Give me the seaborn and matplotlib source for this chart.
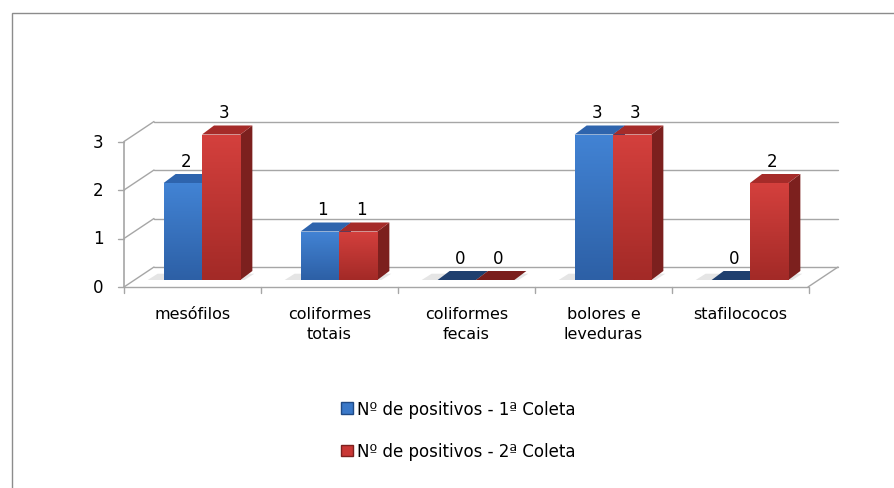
import numpy as np
import pandas as pd
import matplotlib
matplotlib.use("Agg")
import matplotlib.pyplot as plt
from matplotlib.patches import Polygon, Rectangle, Patch
from matplotlib.colors import LinearSegmentedColormap
import seaborn as sns

# --- data ---
categorias = ["mesófilos", "coliformes\ntotais", "coliformes\nfecais", "bolores e\nleveduras", "stafilococos"]
coleta1 = [2, 1, 0, 3, 0]
coleta2 = [3, 1, 0, 3, 2]
series = ["Nº de positivos - 1ª Coleta", "Nº de positivos - 2ª Coleta"]
yticks = [0, 1, 2, 3]

df = pd.DataFrame({
    "categoria": categorias * 2,
    "valor": coleta1 + coleta2,
    "coleta": [series[0]] * len(categorias) + [series[1]] * len(categorias),
})

sns.set_theme(style="white")
FONT = ["DejaVu Sans"]
plt.rcParams["font.family"] = FONT
plt.rcParams["text.color"] = "#000000"

W, H = 895, 489
fig = plt.figure(figsize=(W / 100, H / 100), dpi=100)

# pixel scale of the plot
PX_X = 137.0   # pixels per category
PX_Y = 48.5    # pixels per unit value
X0_PX = 202.0  # pixel x of category 0
Y0_PX = 281.0  # pixel y of value 0 (bar base)

left_px, right_px = 80.0, 870.0
ylo, yhi = -0.4, 3.7
xlo = (left_px - X0_PX) / PX_X
xhi = (right_px - X0_PX) / PX_X
bot_px = Y0_PX - ylo * PX_Y
top_px = Y0_PX - yhi * PX_Y
ax = fig.add_axes([left_px / W, 1 - bot_px / H, (right_px - left_px) / W, (bot_px - top_px) / H])


def dx(px):
    return px / PX_X


def dy(px):
    return px / PX_Y


# floor/wall geometry (3D look)
front_y0 = -dy(7)
wall_dx, wall_dy = dx(30), dy(20)
fx0, fx1 = (124 - X0_PX) / PX_X, (808 - X0_PX) / PX_X
grid_c = "#a6a6a6"
for v in yticks:
    yf = front_y0 + v
    ax.plot([fx0, fx0 + wall_dx], [yf, yf + wall_dy], color=grid_c, lw=1.0, zorder=1)
    ax.plot([fx0 + wall_dx, fx1 + wall_dx], [yf + wall_dy, yf + wall_dy], color=grid_c, lw=1.0, zorder=1)
ax.plot([fx0, fx1], [front_y0, front_y0], color=grid_c, lw=1.0, zorder=1)
ax.plot([fx1, fx1 + wall_dx], [front_y0, front_y0 + wall_dy], color=grid_c, lw=1.0, zorder=1)
ax.plot([fx0, fx0], [front_y0, front_y0 + 3], color=grid_c, lw=1.2, zorder=1)
for v in yticks:
    ax.plot([fx0 - dx(6), fx0], [front_y0 + v, front_y0 + v], color=grid_c, lw=1.0, zorder=1)
    ax.text(fx0 - dx(26), front_y0 + v, str(v), ha="center", va="center", fontsize=12, color="#000000")
for k in range(len(categorias) + 1):
    xt = fx0 + k
    ax.plot([xt, xt], [front_y0, front_y0 - dy(6)], color=grid_c, lw=1.0, zorder=1)
for k, c in enumerate(categorias):
    ax.text(fx0 + k + 0.5, front_y0 - dy(19), c, ha="center", va="top", fontsize=11.5,
            linespacing=1.45, color="#000000")

# bars
palette = {series[0]: "#3a78c8", series[1]: "#c93735"}
sns.barplot(data=df, x="categoria", y="valor", hue="coleta", order=categorias,
            hue_order=series, palette=palette, width=0.56, ax=ax, legend=False,
            saturation=1.0, edgecolor="none", zorder=3)

grad = {0: LinearSegmentedColormap.from_list("g0", ["#2d60a6", "#4283d4"]),
        1: LinearSegmentedColormap.from_list("g1", ["#a32a27", "#d4403d"])}
side_c = {0: "#1f4a85", 1: "#7c201e"}
top_c = {0: "#2e64ad", 1: "#a52b29"}
zero_c = {0: "#1f3f6e", 1: "#7a1e1c"}
bdx, bdy = dx(12), dy(9)
ramp = np.linspace(0, 1, 64).reshape(-1, 1)
for si, cont in enumerate(ax.containers):
    for bar in cont:
        x, w, h = bar.get_x(), bar.get_width(), bar.get_height()
        # soft shadow on the floor
        ax.add_patch(Polygon([[x - dx(16), 0], [x + w + dx(4), 0], [x + w + bdx + dx(2), bdy * 0.7],
                              [x - dx(6), bdy * 0.7]], closed=True, color="#d0d0d0", alpha=0.55,
                             lw=0, zorder=1.5))
        if h <= 0:
            ax.add_patch(Polygon([[x, 0], [x + w, 0], [x + w + bdx, bdy], [x + bdx, bdy]],
                                 closed=True, color=zero_c[si], lw=0, zorder=2))
            continue
        # vertical shading on the front face
        im = ax.imshow(ramp, cmap=grad[si], origin="lower", extent=[x, x + w, 0, h],
                       aspect="auto", zorder=3.5, interpolation="bilinear")
        im.set_clip_path(bar)
        ax.add_patch(Polygon([[x + w, 0], [x + w + bdx, bdy], [x + w + bdx, h + bdy], [x + w, h]],
                             closed=True, color=side_c[si], lw=0, zorder=2))
        ax.add_patch(Polygon([[x, h], [x + w, h], [x + w + bdx, h + bdy], [x + bdx, h + bdy]],
                             closed=True, color=top_c[si], lw=0, zorder=2))

# value labels
for si, cont in enumerate(ax.containers):
    for bar in cont:
        x, w, h = bar.get_x(), bar.get_width(), bar.get_height()
        ax.text(x + w / 2 + dx(3), h + dy(22), f"{h:g}", ha="center", va="center",
                fontsize=12, color="#000000", zorder=5)

ax.set_xlim(xlo, xhi)
ax.set_ylim(ylo, yhi)
ax.axis("off")

# legend
handles = [Patch(facecolor=palette[s], edgecolor=side_c[i]) for i, s in enumerate(series)]
fig.legend(handles, series, loc="upper left", bbox_to_anchor=(341 / W, 1 - 401 / H),
           frameon=False, fontsize=12, handlelength=0.7, handleheight=0.7,
           handletextpad=0.25, labelspacing=1.45, borderaxespad=0, borderpad=0,
           labelcolor="#000000")

# chart area frame
fig.patches.append(Rectangle((12 / W, -0.1), 1.2, 1.1 - 14 / H, transform=fig.transFigure,
                             fill=False, edgecolor="#8c8c8c", lw=1.0))

fig.savefig("out.png", dpi=100)
